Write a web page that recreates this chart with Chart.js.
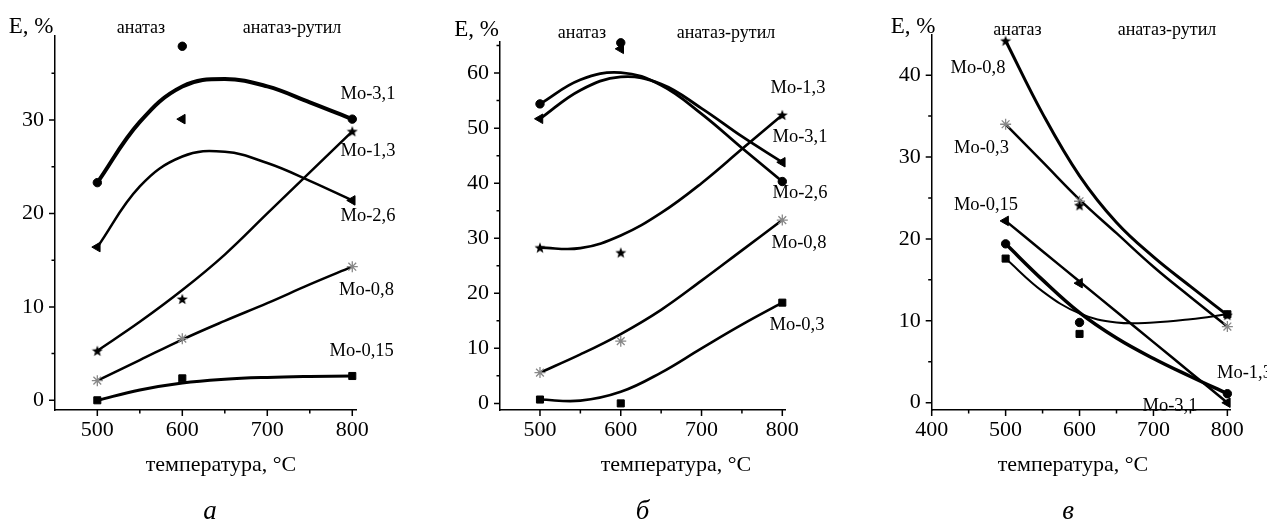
<!DOCTYPE html>
<html><head><meta charset="utf-8">
<script src="https://cdn.jsdelivr.net/npm/chart.js@4.4.0/dist/chart.umd.min.js"></script>
<style>
html,body{margin:0;padding:0;background:#fff;}
#wrap{position:relative;width:1267px;height:522px;overflow:hidden;background:#fff;}
canvas{position:absolute;top:0;}
</style></head><body>
<div id="wrap">
<canvas id="ca" width="420" height="522" style="left:0px"></canvas>
<canvas id="cb" width="420" height="522" style="left:420px"></canvas>
<canvas id="cc" width="427" height="522" style="left:840px"></canvas>
</div>
<script>
// ---- Data ----
const temps = [500, 600, 800];                       // measured temperatures, °C
const fitTemps = [500, 550, 600, 650, 700, 750, 800]; // where the drawn curves were read

// Panel а
const a_Mo31 = [23.3, 37.9, 30.1];
const a_Mo26 = [16.4, 30.1, 21.4];
const a_Mo13 = [5.3, 10.85, 28.8];
const a_Mo08 = [2.1, 6.6, 14.3];
const a_Mo015 = [0.0, 2.35, 2.6];
const a_fit_Mo31 = [23.3, 29.8, 33.6, 34.4, 33.6, 31.9, 30.1];
const a_fit_Mo26 = [16.4, 22.9, 26.1, 26.6, 25.4, 23.5, 21.4];
const a_fit_Mo13 = [5.3, 8.4, 11.8, 15.6, 20.0, 24.4, 28.8];
const a_fit_Mo08 = [2.1, 4.3, 6.5, 8.5, 10.4, 12.4, 14.3];
const a_fit_Mo015 = [0.0, 1.1, 1.85, 2.25, 2.45, 2.55, 2.6];

// Panel б
const b_Mo31 = [54.4, 65.5, 40.3];
const b_Mo26 = [51.7, 64.4, 43.8];
const b_Mo13 = [28.3, 27.4, 52.4];
const b_Mo08 = [5.6, 11.3, 33.3];
const b_Mo03 = [0.7, 0.0, 18.3];
const b_fit_Mo31 = [54.4, 58.8, 60.1, 57.8, 52.6, 46.4, 40.3];
const b_fit_Mo26 = [51.7, 56.9, 59.3, 58.0, 53.6, 48.5, 43.8];
const b_fit_Mo13 = [28.3, 28.2, 30.5, 34.6, 40.0, 46.2, 52.4];
const b_fit_Mo08 = [5.6, 8.9, 12.6, 17.0, 22.3, 27.8, 33.3];
const b_fit_Mo03 = [0.7, 0.5, 2.1, 5.6, 10.0, 14.3, 18.3];

// Panel в
const c_Mo08 = [44.2, 24.1, 10.7];
const c_Mo03 = [34.0, 24.6, 9.3];
const c_Mo015 = [22.2, 14.6, 0.0];
const c_Mo13 = [19.4, 9.8, 1.1];
const c_Mo31 = [17.6, 8.4, 10.8];
const c_fit_Mo08 = [44.2, 35.3, 27.7, 22.0, 17.8, 14.2, 10.7];
const c_fit_Mo03 = [34.0, 29.4, 24.8, 20.7, 16.6, 12.9, 9.3];
const c_fit_Mo015 = [22.2, 18.5, 14.8, 11.1, 7.4, 3.7, 0.0];
const c_fit_Mo13 = [19.4, 15.0, 11.0, 7.9, 5.4, 3.2, 1.1];
const c_fit_Mo31 = [17.6, 13.6, 10.9, 9.8, 9.8, 10.2, 10.8];

// Tick values
const a_xMajor = [500, 600, 700, 800], a_xMinor = [550, 650, 750];
const a_yMajor = [0, 10, 20, 30], a_yMinor = [5, 15, 25, 35];
const b_xMajor = [500, 600, 700, 800], b_xMinor = [550, 650, 750];
const b_yMajor = [0, 10, 20, 30, 40, 50, 60], b_yMinor = [5, 15, 25, 35, 45, 55, 65];
const c_xMajor = [400, 500, 600, 700, 800], c_xMinor = [450, 550, 650, 750];
const c_yMajor = [0, 10, 20, 30, 40], c_yMinor = [5, 15, 25, 35];

// Text
const xTitle = 'температура, °C';
const yTitle = 'E, %';
const phase1 = 'анатаз';
const phase2 = 'анатаз-рутил';

// ---- Rendering ----
const SERIF = '"Liberation Serif", "Times New Roman", serif';

function makeStar() {
  const c = document.createElement('canvas');
  c.width = 12; c.height = 12;
  const g = c.getContext('2d');
  g.fillStyle = '#000';
  g.beginPath();
  for (let i = 0; i < 10; i++) {
    const r = i % 2 === 0 ? 5.8 : 2.4;
    const a = -Math.PI / 2 + i * Math.PI / 5;
    const x = 6 + r * Math.cos(a), y = 6.5 + r * Math.sin(a);
    if (i === 0) g.moveTo(x, y); else g.lineTo(x, y);
  }
  g.closePath(); g.fill();
  return c;
}
const starImg = makeStar();

function markerStyle(m) {
  switch (m) {
    case 'circle': return {pointStyle: 'circle', pointRadius: 4.2, backgroundColor: '#000', borderColor: '#000', borderWidth: 1};
    case 'tri': return {pointStyle: 'triangle', rotation: -90, pointRadius: 5.5, backgroundColor: '#000', borderColor: '#000', borderWidth: 1};
    case 'rect': return {pointStyle: 'rect', pointRadius: 5, backgroundColor: '#000', borderColor: '#000', borderWidth: 1};
    case 'star': return {pointStyle: starImg, pointRadius: 6};
    case 'ast': return {pointStyle: 'star', pointRadius: 5.5, backgroundColor: 'rgba(0,0,0,0)', borderColor: '#888', borderWidth: 1.3};
  }
}

function buildChart(id, P) {
  const datasets = [];
  P.series.forEach(s => {
    datasets.push(Object.assign({
      label: s.name + ' pts',
      data: temps.map((t, i) => ({x: t, y: s.pts[i]})),
      showLine: false, clip: false, order: 0
    }, markerStyle(s.marker)));
  });
  P.series.forEach(s => {
    datasets.push({
      label: s.name,
      data: fitTemps.map((t, i) => ({x: t, y: s.fit[i]})),
      showLine: true, pointRadius: 0, borderColor: '#000', borderWidth: s.lw,
      tension: 0.4, borderCapStyle: 'round', borderJoinStyle: 'round',
      clip: false, order: 1, fill: false
    });
  });

  const tickPlugin = {
    id: 'minorTicks',
    afterDraw(chart) {
      const ctx = chart.ctx, xs = chart.scales.x, ys = chart.scales.y;
      const b = chart.chartArea.bottom, l = chart.chartArea.left;
      ctx.save();
      ctx.strokeStyle = '#000'; ctx.lineWidth = 1.5;
      ctx.beginPath();
      P.xMajor.forEach(v => { const p = xs.getPixelForValue(v); ctx.moveTo(p, b); ctx.lineTo(p, b + 6); });
      P.xMinor.forEach(v => { const p = xs.getPixelForValue(v); ctx.moveTo(p, b); ctx.lineTo(p, b + 3.5); });
      P.yMajor.forEach(v => { const p = ys.getPixelForValue(v); ctx.moveTo(l, p); ctx.lineTo(l - 6, p); });
      P.yMinor.forEach(v => { const p = ys.getPixelForValue(v); ctx.moveTo(l, p); ctx.lineTo(l - 3.5, p); });
      ctx.stroke();
      ctx.restore();
    }
  };
  const textPlugin = {
    id: 'texts',
    afterDraw(chart) {
      const ctx = chart.ctx;
      ctx.save();
      ctx.fillStyle = '#000';
      ctx.textBaseline = 'alphabetic';
      P.texts.forEach(t => {
        ctx.font = (t.italic ? 'italic ' : '') + t.size + 'px ' + SERIF;
        ctx.textAlign = t.align || 'center';
        ctx.fillText(t.t, t.x - P.offset, t.y);
      });
      ctx.restore();
    }
  };

  const tickFont = {family: SERIF, size: 22};
  return new Chart(document.getElementById(id), {
    type: 'scatter',
    data: {datasets},
    plugins: [tickPlugin, textPlugin],
    options: {
      responsive: false, animation: false, devicePixelRatio: 1,
      layout: {padding: {left: P.padL, right: P.padR, top: P.padT, bottom: 72}},
      plugins: {legend: {display: false}, tooltip: {enabled: false}},
      scales: {
        x: {
          type: 'linear', min: P.xMin, max: P.xMax,
          border: {display: true, color: '#000', width: 1.5},
          grid: {display: false, drawTicks: false},
          ticks: {font: tickFont, color: '#000', padding: 7.5, autoSkip: false, maxRotation: 0},
          afterBuildTicks: s => { s.ticks = P.xMajor.map(v => ({value: v})); },
          afterFit: s => { s.height = 40; }
        },
        y: {
          type: 'linear', min: P.yMin, max: P.yMax,
          border: {display: true, color: '#000', width: 1.5},
          grid: {display: false, drawTicks: false},
          ticks: {font: tickFont, color: '#000', padding: 11, autoSkip: false},
          afterBuildTicks: s => { s.ticks = P.yMajor.map(v => ({value: v})); },
          afterFit: s => { s.width = 50; }
        }
      }
    }
  });
}

buildChart('ca', {
  offset: 0, padL: 5, padR: 63.3, padT: 36,
  xMin: 450.2, xMax: 805.2, yMin: -1.04, yMax: 39.0,
  xMajor: a_xMajor, xMinor: a_xMinor, yMajor: a_yMajor, yMinor: a_yMinor,
  series: [
    {name: 'Mo-3,1', pts: a_Mo31, fit: a_fit_Mo31, marker: 'circle', lw: 4},
    {name: 'Mo-2,6', pts: a_Mo26, fit: a_fit_Mo26, marker: 'tri', lw: 2.5},
    {name: 'Mo-1,3', pts: a_Mo13, fit: a_fit_Mo13, marker: 'star', lw: 2.5},
    {name: 'Mo-0,8', pts: a_Mo08, fit: a_fit_Mo08, marker: 'ast', lw: 2.5},
    {name: 'Mo-0,15', pts: a_Mo015, fit: a_fit_Mo015, marker: 'rect', lw: 3}
  ],
  texts: [
    {t: yTitle, x: 31, y: 33, size: 23},
    {t: phase1, x: 141, y: 33, size: 18},
    {t: phase2, x: 292, y: 33, size: 18},
    {t: 'Mo-3,1', x: 368, y: 99, size: 18.5},
    {t: 'Mo-1,3', x: 368, y: 156, size: 18.5},
    {t: 'Mo-2,6', x: 368, y: 220.5, size: 18.5},
    {t: 'Mo-0,8', x: 366.5, y: 295, size: 18.5},
    {t: 'Mo-0,15', x: 361.7, y: 356, size: 18.5},
    {t: xTitle, x: 221, y: 471, size: 22},
    {t: 'а', x: 210, y: 519, size: 27, italic: true}
  ]
});

buildChart('cb', {
  offset: 420, padL: 30, padR: 54.3, padT: 41.7,
  xMin: 450.5, xMax: 804.2, yMin: -1.2, yMax: 65.7,
  xMajor: b_xMajor, xMinor: b_xMinor, yMajor: b_yMajor, yMinor: b_yMinor,
  series: [
    {name: 'Mo-3,1', pts: b_Mo31, fit: b_fit_Mo31, marker: 'circle', lw: 2.8},
    {name: 'Mo-2,6', pts: b_Mo26, fit: b_fit_Mo26, marker: 'tri', lw: 2.8},
    {name: 'Mo-1,3', pts: b_Mo13, fit: b_fit_Mo13, marker: 'star', lw: 2.6},
    {name: 'Mo-0,8', pts: b_Mo08, fit: b_fit_Mo08, marker: 'ast', lw: 2.6},
    {name: 'Mo-0,3', pts: b_Mo03, fit: b_fit_Mo03, marker: 'rect', lw: 2.6}
  ],
  texts: [
    {t: yTitle, x: 476.5, y: 36, size: 23},
    {t: phase1, x: 582, y: 38, size: 18},
    {t: phase2, x: 726, y: 38, size: 18},
    {t: 'Mo-1,3', x: 798, y: 93, size: 18.5},
    {t: 'Mo-3,1', x: 800, y: 141.5, size: 18.5},
    {t: 'Mo-2,6', x: 800, y: 198, size: 18.5},
    {t: 'Mo-0,8', x: 799, y: 248, size: 18.5},
    {t: 'Mo-0,3', x: 797, y: 330, size: 18.5},
    {t: xTitle, x: 676, y: 471, size: 22},
    {t: 'б', x: 642.5, y: 519, size: 27, italic: true}
  ]
});

buildChart('cc', {
  offset: 840, padL: 41.7, padR: 36.3, padT: 35,
  xMin: 400, xMax: 804.5, yMin: -0.89, yMax: 44.9,
  xMajor: c_xMajor, xMinor: c_xMinor, yMajor: c_yMajor, yMinor: c_yMinor,
  series: [
    {name: 'Mo-0,8', pts: c_Mo08, fit: c_fit_Mo08, marker: 'star', lw: 3},
    {name: 'Mo-0,3', pts: c_Mo03, fit: c_fit_Mo03, marker: 'ast', lw: 2.5},
    {name: 'Mo-0,15', pts: c_Mo015, fit: c_fit_Mo015, marker: 'tri', lw: 2.5},
    {name: 'Mo-1,3', pts: c_Mo13, fit: c_fit_Mo13, marker: 'circle', lw: 3.5},
    {name: 'Mo-3,1', pts: c_Mo31, fit: c_fit_Mo31, marker: 'rect', lw: 2}
  ],
  texts: [
    {t: yTitle, x: 913, y: 33, size: 23},
    {t: phase1, x: 1017.5, y: 35, size: 18},
    {t: phase2, x: 1167, y: 35, size: 18},
    {t: 'Mo-0,8', x: 978, y: 73, size: 18.5},
    {t: 'Mo-0,3', x: 981.5, y: 153, size: 18.5},
    {t: 'Mo-0,15', x: 986, y: 210, size: 18.5},
    {t: 'Mo-1,3', x: 1217, y: 378, size: 18.5, align: 'left'},
    {t: 'Mo-3,1', x: 1170, y: 410.5, size: 18.5},
    {t: xTitle, x: 1073, y: 471, size: 22},
    {t: 'в', x: 1068, y: 519, size: 27, italic: true}
  ]
});
</script>
</body></html>
